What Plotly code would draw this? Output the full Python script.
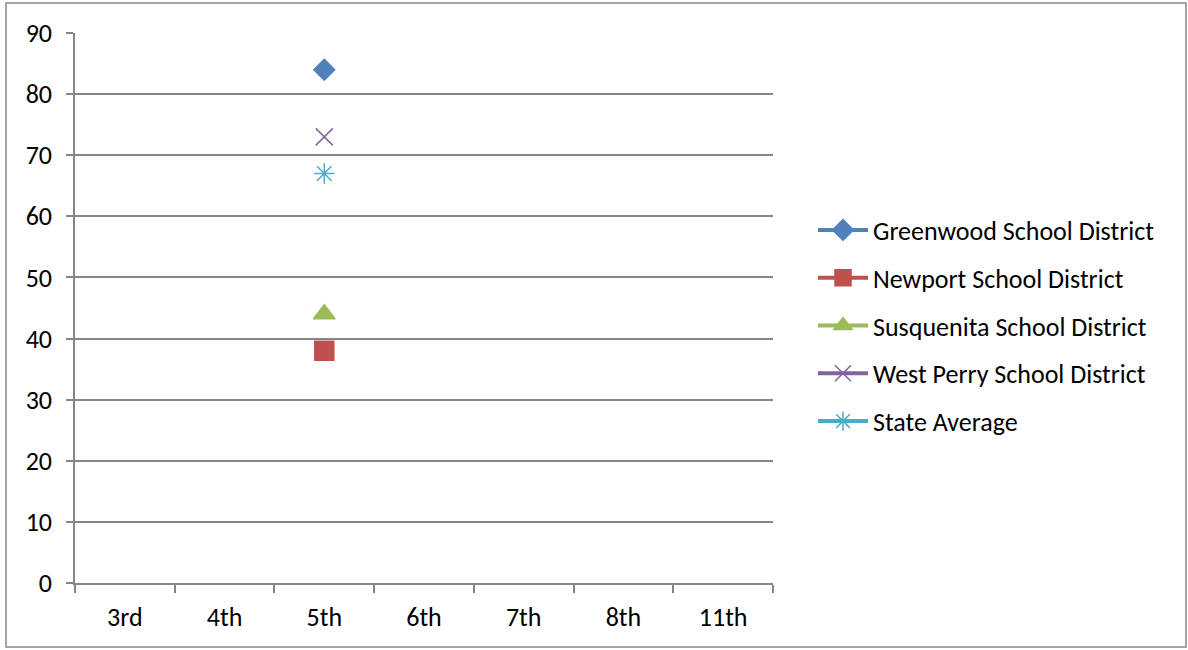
import plotly.graph_objects as go

categories = ["3rd", "4th", "5th", "6th", "7th", "8th", "11th"]
series_names = ["Greenwood School District", "Newport School District",
                "Susquenita School District", "West Perry School District", "State Average"]
greenwood = [None, None, 84, None, None, None, None]
newport = [None, None, 38, None, None, None, None]
susquenita = [None, None, 44, None, None, None, None]
west_perry = [None, None, 73, None, None, None, None]
state_avg = [None, None, 67, None, None, None, None]
y_ticks = [0, 10, 20, 30, 40, 50, 60, 70, 80, 90]

colors = ["#4F81BD", "#C0504D", "#9BBB59", "#8064A2", "#4BACC6"]
symbols = ["diamond", "square", "triangle-up", "x-thin-open", "asterisk-open"]
sizes = [16, 19, 19, 17, 17]
all_values = [greenwood, newport, susquenita, west_perry, state_avg]

FONT = "Carlito, Calibri, 'Noto Sans', sans-serif"
FS = 26

fig = go.Figure()
for i, (name, vals) in enumerate(zip(series_names, all_values)):
    fig.add_trace(go.Scatter(
        x=categories, y=vals, name=name, mode="lines+markers",
        legendgroup=name,
        line=dict(color=colors[i], width=4),
        marker=dict(symbol=symbols[i], size=sizes[i], color=colors[i],
                    line=dict(color=colors[i], width=1.5)),
        connectgaps=False,
    ))

L, R, T, B = 75, 1188 - 773, 33, 650 - 583
W, H = 1188 - L - R, 650 - T - B

def px_x(x):
    return (x - L) / W

def px_y(y):
    return (650 - B - y) / H

fig.update_layout(
    width=1188, height=650,
    margin=dict(l=L, r=R, t=T, b=B, pad=0),
    paper_bgcolor="white", plot_bgcolor="white",
    font=dict(family=FONT, size=FS, color="#000000"),
    showlegend=True,
    legend=dict(x=px_x(813), xanchor="left", y=px_y(326), yanchor="middle",
                traceorder="grouped", tracegroupgap=11,
                font=dict(family=FONT, size=FS), bgcolor="rgba(0,0,0,0)",
                itemwidth=50),
    xaxis=dict(type="category", categoryorder="array", categoryarray=categories,
               range=[-0.5, 6.5], showgrid=False, showline=True, linecolor="#868686",
               linewidth=1.5, ticks="outside", tickson="boundaries", ticklen=8,
               tickcolor="#868686", tickwidth=1.5, zeroline=False,
               tickfont=dict(family=FONT, size=FS), ticklabelstandoff=10),
    yaxis=dict(range=[0, 90], tickvals=y_ticks, showgrid=True, gridcolor="#868686",
               gridwidth=1.5, showline=True, linecolor="#868686", linewidth=1.5,
               ticks="outside", ticklen=7, tickcolor="#868686", tickwidth=1.5,
               zeroline=False, tickfont=dict(family=FONT, size=FS),
               ticklabelstandoff=9),
    shapes=[dict(type="rect", xref="paper", yref="paper",
                 x0=px_x(6), x1=px_x(1186), y0=px_y(647), y1=px_y(3),
                 line=dict(color="#868686", width=1.5), fillcolor="rgba(0,0,0,0)",
                 layer="below")],
)

fig.write_html("out.html", config={"displayModeBar": False},
               post_script="document.body.style.margin='0';document.body.style.overflow='hidden';")
